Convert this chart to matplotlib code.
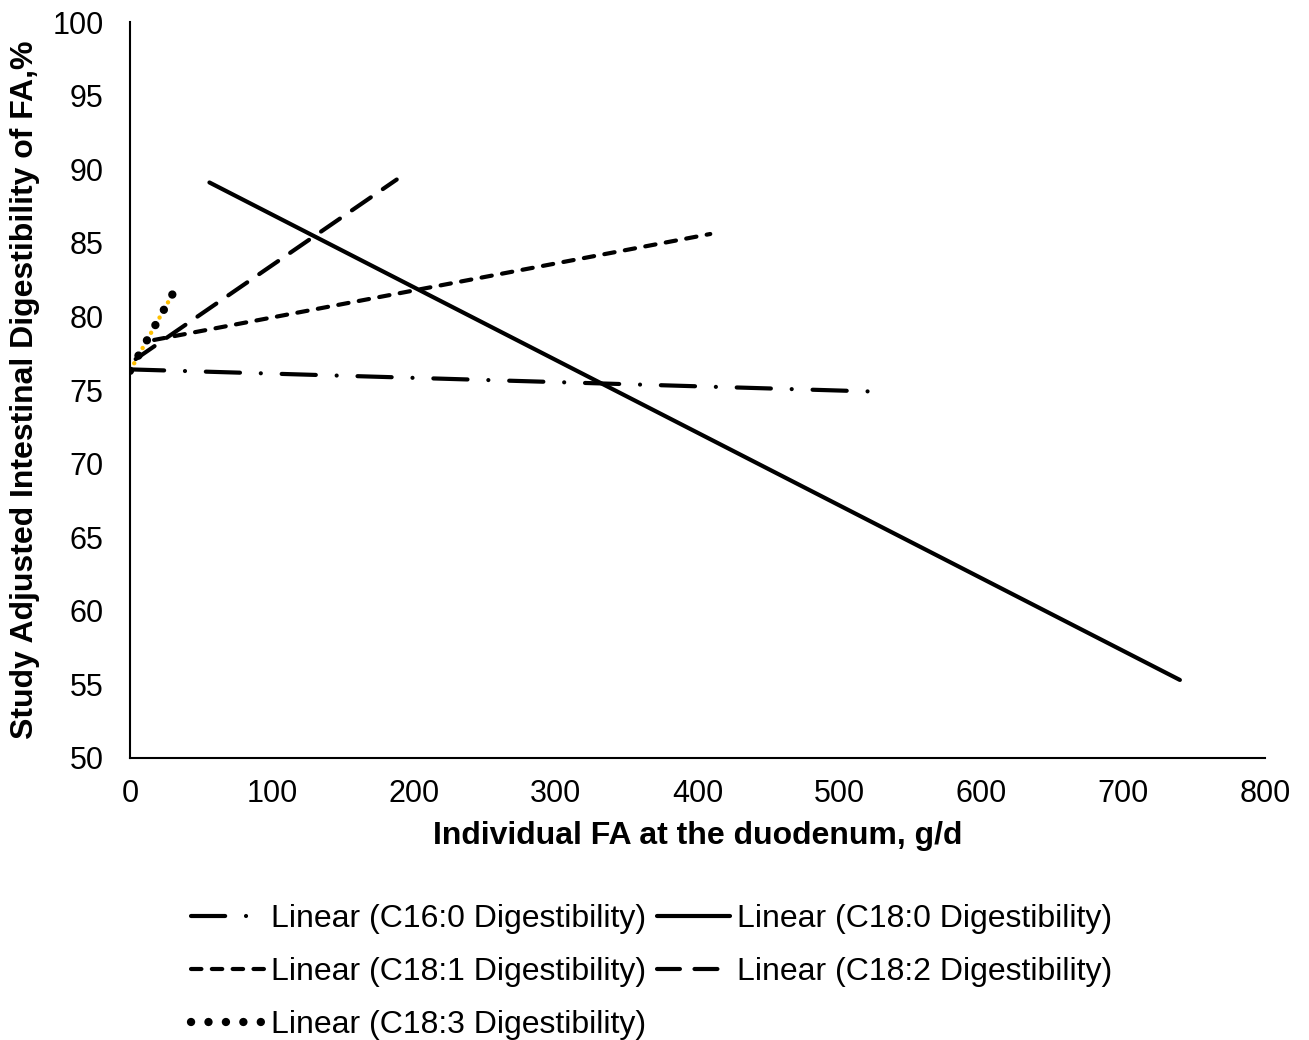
import matplotlib
matplotlib.use("Agg")
import matplotlib.pyplot as plt

plt.rcParams["font.family"] = ["Liberation Sans", "DejaVu Sans"]

# Trendline end points (x in g/d, y in %)
c16_x = [0, 522]
c16_y = [76.4, 74.9]
c180_x = [56, 740]
c180_y = [89.1, 55.3]
c181_x = [17, 409]
c181_y = [78.4, 85.6]
c182_x = [4, 188]
c182_y = [77.1, 89.3]
c183_x = [0, 30.5]
c183_y = [76.3, 81.6]

labels = ["Linear (C16:0 Digestibility)", "Linear (C18:0 Digestibility)",
          "Linear (C18:1 Digestibility)", "Linear (C18:2 Digestibility)",
          "Linear (C18:3 Digestibility)"]

x_ticks = list(range(0, 801, 100))
y_ticks = list(range(50, 101, 5))

fig = plt.figure(figsize=(13.09, 10.4), dpi=100)
ax = fig.add_axes([0.0993, 0.2712, 0.8671, 0.7076])

lw = 3
common = dict(color="black", linewidth=lw, dash_capstyle="round", solid_capstyle="round")

l16, = ax.plot(c16_x, c16_y, linestyle=(0, (8.2, 5, 0.01, 5)), label=labels[0], **common)
l180, = ax.plot(c180_x, c180_y, linestyle="-", label=labels[1], **common)
l181, = ax.plot(c181_x, c181_y, linestyle=(0, (2.5, 2.5)), label=labels[2], **common)
l182, = ax.plot(c182_x, c182_y, linestyle=(0, (5.5, 3.5)), label=labels[3], **common)

# dotted C18:3 line: black dots with a yellow dotted line showing between them
dot_gap = 12.5  # points between dots
ax.plot(c183_x, c183_y, color="#FFC000", linewidth=3.2,
        linestyle=(dot_gap / 2 / 3.2, (0.01, dot_gap / 3.2)), dash_capstyle="round")
l183, = ax.plot(c183_x, c183_y, color="black", linewidth=6,
                linestyle=(0, (0.01, dot_gap / 6)), dash_capstyle="round", label=labels[4])

ax.set_xlim(0, 800)
ax.set_ylim(50, 100)
ax.set_xticks(x_ticks)
ax.set_yticks(y_ticks)
ax.tick_params(length=0, labelsize=22)
ax.tick_params(axis="y", pad=19)
ax.tick_params(axis="x", pad=15)
for s in ["top", "right"]:
    ax.spines[s].set_visible(False)
for s in ["left", "bottom"]:
    ax.spines[s].set_linewidth(1.5)

ax.set_xlabel("Individual FA at the duodenum, g/d", fontsize=23, fontweight="bold", labelpad=9)
ax.set_ylabel("Study Adjusted Intestinal Digestibility of FA,%", fontsize=23,
              fontweight="bold", labelpad=9)

handles = [l16, l181, l183, l180, l182]
fig.legend(handles, [h.get_label() for h in handles], loc="upper left",
           bbox_to_anchor=(0.136, 0.143), ncol=2, frameon=False, fontsize=23,
           handlelength=2.3, handletextpad=0.2, columnspacing=0.35, labelspacing=0.72,
           borderaxespad=0)

fig.savefig("out.png", dpi=100)
